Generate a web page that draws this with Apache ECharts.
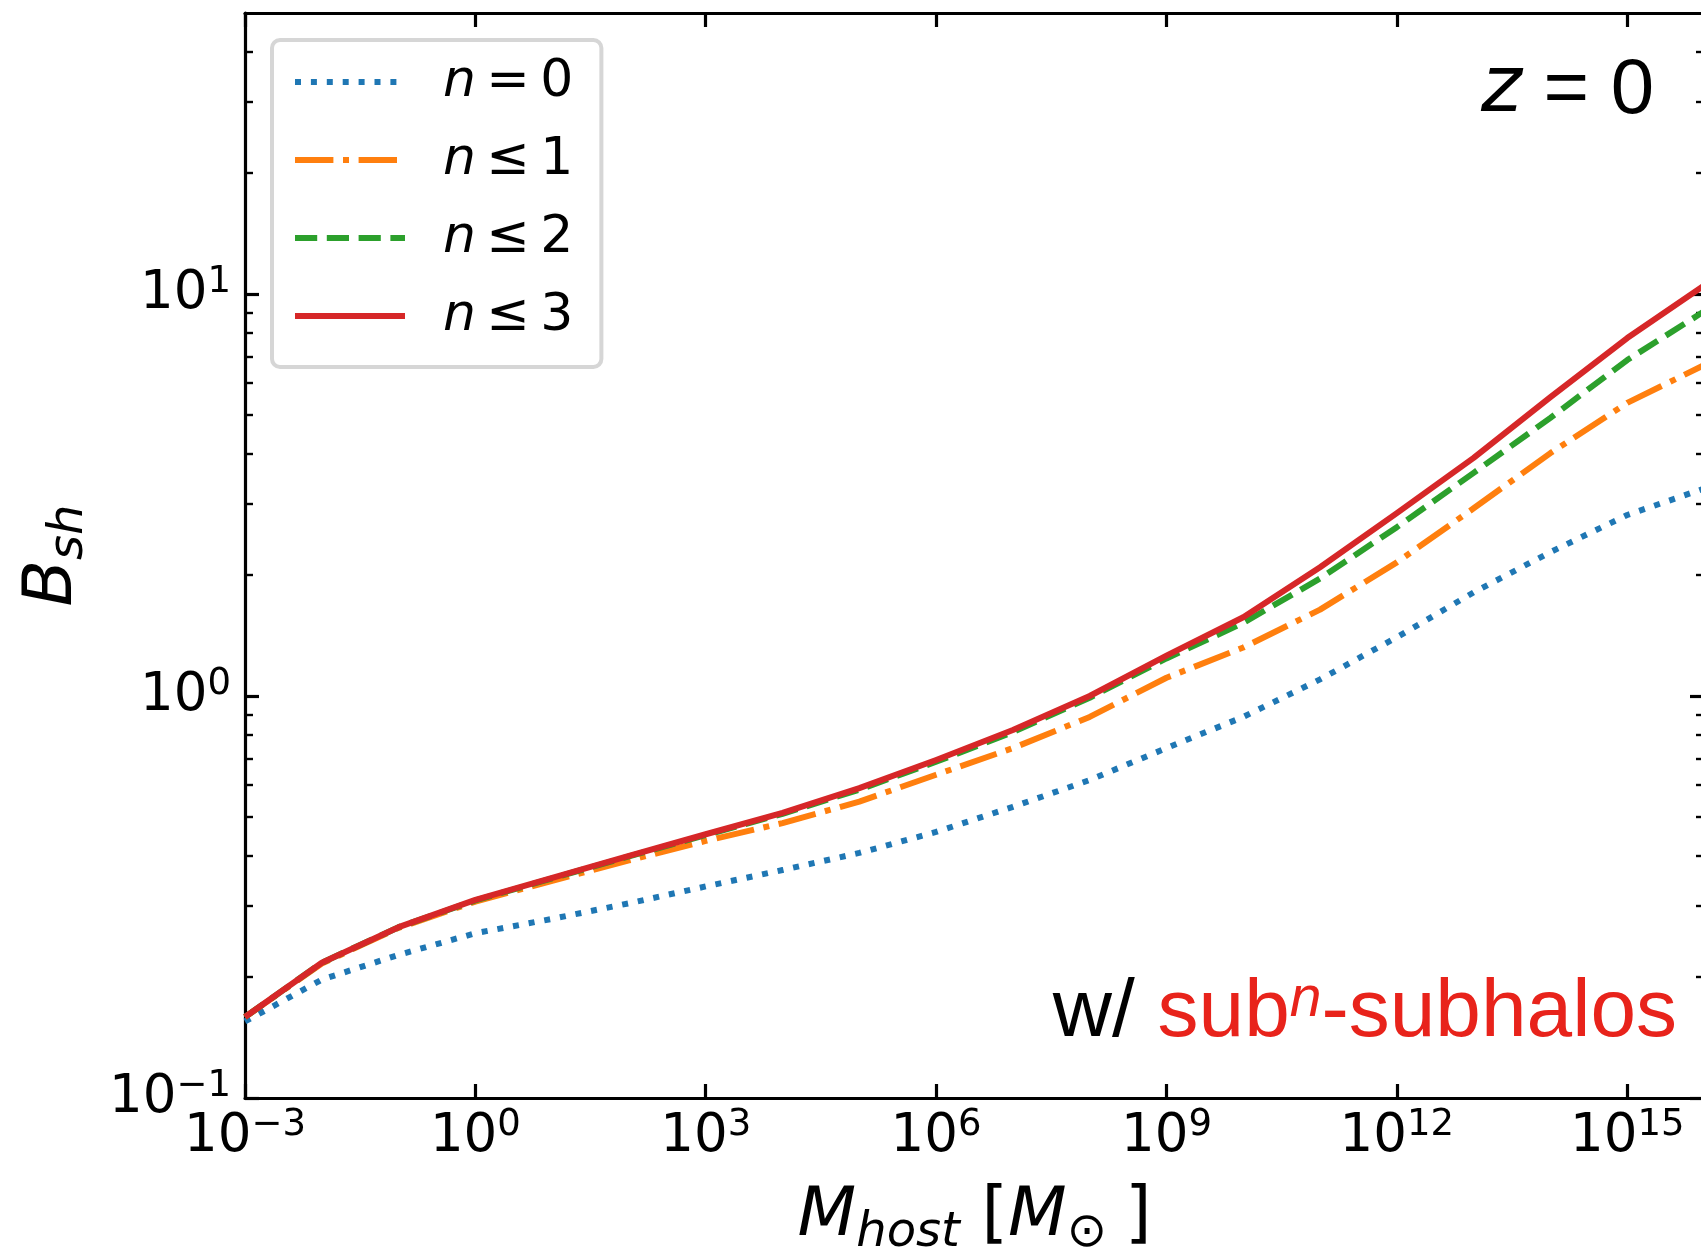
<!DOCTYPE html>
<html>
<head>
<meta charset="utf-8">
<script src="https://cdn.jsdelivr.net/npm/echarts@6/dist/echarts.min.js"></script>
<style>
  html, body { margin: 0; padding: 0; background: #ffffff; }
  #chart { width: 1701px; height: 1250px; }
</style>
</head>
<body>
<div id="chart"></div>
<script>
// Host halo mass [M_sun], one sample per decade
const hostMass = [1e-3, 1e-2, 1e-1, 1e0, 1e1, 1e2, 1e3, 1e4, 1e5, 1e6,
                  1e7, 1e8, 1e9, 1e10, 1e11, 1e12, 1e13, 1e14, 1e15, 1e16];

// Subhalo boost factor B_sh, summed up to sub^n-subhalo level n
const boostN0 = [0.155, 0.197, 0.227, 0.257, 0.279, 0.305, 0.336, 0.369, 0.407, 0.459,
                 0.530, 0.618, 0.742, 0.887, 1.10, 1.40, 1.81, 2.28, 2.82, 3.28];
const boostN1 = [0.159, 0.216, 0.265, 0.308, 0.347, 0.390, 0.436, 0.483, 0.546, 0.637,
                 0.742, 0.887, 1.11, 1.32, 1.64, 2.15, 2.93, 4.02, 5.36, 6.65];
const boostN2 = [0.159, 0.217, 0.266, 0.310, 0.352, 0.399, 0.451, 0.509, 0.585, 0.686,
                 0.813, 0.990, 1.24, 1.52, 1.96, 2.63, 3.59, 4.92, 6.85, 9.05];
const boostN3 = [0.159, 0.217, 0.266, 0.311, 0.353, 0.400, 0.453, 0.512, 0.590, 0.693,
                 0.823, 1.00, 1.26, 1.57, 2.09, 2.85, 3.91, 5.54, 7.77, 10.5];

const seriesNames = ['n = 0', 'n \u2264 1', 'n \u2264 2', 'n \u2264 3'];

// Tick positions
const xTickValues = [1e-3, 1e0, 1e3, 1e6, 1e9, 1e12, 1e15];
const yMajorTicks = [0.1, 1, 10];
const yMinorTicks = [0.2, 0.3, 0.4, 0.5, 0.6, 0.7, 0.8, 0.9,
                     2, 3, 4, 5, 6, 7, 8, 9, 20, 30, 40];

const FONT = 'DejaVu Sans';
const SANS = 'Liberation Sans';
const INK = '#000000';
const RED_TEXT = '#e8231b';

function powLabel(v) {
  const e = Math.round(Math.log10(v));
  const s = e < 0 ? '\u2212' + (-e) : String(e);
  return '{b|10}{s|' + s + '}';
}

// "10" with a raised exponent
const tickRich = {
  b: { fontFamily: FONT, fontSize: 53, lineHeight: 60, color: INK },
  s: { fontFamily: FONT, fontSize: 37, lineHeight: 29, verticalAlign: 'top', color: INK }
};

// italic symbol with a lowered subscript
const nameRich = {
  i: { fontFamily: FONT, fontStyle: 'italic', fontSize: 68, lineHeight: 75, verticalAlign: 'top', color: INK },
  r: { fontFamily: FONT, fontSize: 68, lineHeight: 75, verticalAlign: 'top', color: INK },
  g: { fontFamily: FONT, fontSize: 68, lineHeight: 75, verticalAlign: 'top', width: 18 },
  s: { fontFamily: FONT, fontStyle: 'italic', fontSize: 48, lineHeight: 75, verticalAlign: 'bottom', color: INK },
  u: { fontFamily: FONT, fontSize: 48, lineHeight: 75, verticalAlign: 'bottom', color: INK }
};

const spine = { show: true, onZero: false, lineStyle: { color: INK, width: 3.2 } };
const majorTick = (vals) => ({ show: true, inside: true, length: 14, customValues: vals,
                               lineStyle: { color: INK, width: 3.2 } });
const minorTick = (vals) => ({ show: true, inside: true, length: 8, customValues: vals,
                               lineStyle: { color: INK, width: 2.4 } });

const gridBox = { left: 245, top: 13, right: -3, bottom: 152, outerBoundsMode: 'none', containLabel: false };

const styles = [
  { color: '#1f77b4', type: [6, 9.9] },
  { color: '#ff7f0e', type: [38.4, 9.6, 6, 9.6] },
  { color: '#2ca02c', type: [22.2, 9.6] },
  { color: '#d62728', type: 'solid' }
];
const values = [boostN0, boostN1, boostN2, boostN3];

const series = values.map((arr, k) => ({
  name: seriesNames[k],
  type: 'line',
  xAxisIndex: 0,
  yAxisIndex: 0,
  data: hostMass.map((m, i) => [m, arr[i]]),
  symbol: 'none',
  showSymbol: false,
  smooth: false,
  lineStyle: { color: styles[k].color, width: 6, type: styles[k].type, cap: 'butt', join: 'round' },
  itemStyle: { color: styles[k].color },
  emphasis: { disabled: true },
  z: 2 + k
}));

const chart = echarts.init(document.getElementById('chart'), null, { renderer: 'canvas' });

chart.setOption({
  animation: false,
  backgroundColor: '#ffffff',
  grid: [Object.assign({}, gridBox), Object.assign({}, gridBox)],
  xAxis: [
    {
      type: 'log', logBase: 10, gridIndex: 0, position: 'bottom', min: 1e-3, max: 1e16,
      axisLine: spine, axisTick: majorTick(xTickValues),
      axisLabel: { show: true, margin: 9, customValues: xTickValues, formatter: powLabel,
                   fontFamily: FONT, fontSize: 53, color: INK, rich: tickRich,
                   showMinLabel: true, showMaxLabel: true, hideOverlap: false },
      splitLine: { show: false }, minorTick: { show: false },
      name: '{i|M}{s|host}{r| [}{i|M}{u|\u2299}{g| }{r|]}',
      nameLocation: 'middle', nameGap: 85, nameMoveOverlap: false,
      nameTextStyle: { fontFamily: FONT, fontSize: 68, color: INK, rich: nameRich }
    },
    {
      type: 'log', logBase: 10, gridIndex: 0, position: 'top', min: 1e-3, max: 1e16,
      axisLine: spine, axisTick: majorTick(xTickValues),
      axisLabel: { show: false }, splitLine: { show: false }
    },
    {
      type: 'log', logBase: 10, gridIndex: 1, position: 'bottom', min: 1e-3, max: 1e16,
      show: false
    }
  ],
  yAxis: [
    {
      type: 'log', logBase: 10, gridIndex: 0, position: 'left', min: 0.1, max: 50,
      axisLine: spine, axisTick: majorTick(yMajorTicks),
      axisLabel: { show: true, margin: 14, customValues: yMajorTicks, formatter: powLabel,
                   fontFamily: FONT, fontSize: 53, color: INK, rich: tickRich,
                   showMinLabel: true, showMaxLabel: true, hideOverlap: false },
      splitLine: { show: false }, minorTick: { show: false },
      name: '{i|B}{s|sh}',
      nameLocation: 'middle', nameRotate: 90, nameGap: 151, nameMoveOverlap: false,
      nameTextStyle: { fontFamily: FONT, fontSize: 68, color: INK, rich: nameRich }
    },
    {
      type: 'log', logBase: 10, gridIndex: 0, position: 'right', min: 0.1, max: 50,
      axisLine: spine, axisTick: majorTick(yMajorTicks),
      axisLabel: { show: false }, splitLine: { show: false }
    },
    {
      type: 'log', logBase: 10, gridIndex: 1, position: 'left', min: 0.1, max: 50,
      axisLine: { show: false }, axisTick: minorTick(yMinorTicks),
      axisLabel: { show: false }, splitLine: { show: false }
    },
    {
      type: 'log', logBase: 10, gridIndex: 1, position: 'right', min: 0.1, max: 50,
      axisLine: { show: false }, axisTick: minorTick(yMinorTicks),
      axisLabel: { show: false }, splitLine: { show: false }
    }
  ],
  legend: {
    orient: 'vertical', left: 272, top: 40,
    padding: [16, 28, 25, 20], itemGap: 26, itemWidth: 110, itemHeight: 52,
    backgroundColor: '#ffffff', borderColor: '#d6d6d6', borderWidth: 4, borderRadius: 8,
    selectedMode: false,
    data: seriesNames,
    itemStyle: { opacity: 0, color: 'rgba(0,0,0,0)', borderWidth: 0 },
    lineStyle: { width: 6, cap: 'butt' },
    formatter: (name) => '{sp| }{i|n}{t|' + name.slice(1).replace(/ /g, '\u2009') + '}',
    textStyle: {
      fontFamily: FONT, fontSize: 52, color: INK,
      rich: {
        sp: { width: 33, fontSize: 52, lineHeight: 52 },
        i: { fontFamily: FONT, fontStyle: 'italic', fontSize: 52, lineHeight: 52, color: INK },
        t: { fontFamily: FONT, fontSize: 52, lineHeight: 52, color: INK }
      }
    }
  },
  graphic: [
    {
      type: 'text', z: 10,
      style: {
        x: 1481, y: 52, align: 'left', verticalAlign: 'top',
        text: '{i|z}{r| = 0}',
        rich: {
          i: { fontFamily: FONT, fontStyle: 'italic', fontSize: 78, lineHeight: 78, fill: INK, color: INK },
          r: { fontFamily: SANS, fontSize: 78, lineHeight: 78, fill: INK, color: INK }
        }
      }
    },
    {
      type: 'text', z: 10,
      style: {
        x: 1677, y: 972, align: 'right', verticalAlign: 'top',
        text: '{k|w/ }{r|sub}{n|n}{r|-subhalos}',
        rich: {
          k: { fontFamily: SANS, fontSize: 82, lineHeight: 82, fill: INK, color: INK },
          r: { fontFamily: SANS, fontSize: 82, lineHeight: 82, fill: RED_TEXT, color: RED_TEXT },
          n: { fontFamily: SANS, fontStyle: 'italic', fontSize: 57, lineHeight: 57,
               verticalAlign: 'top', fill: RED_TEXT, color: RED_TEXT }
        }
      }
    }
  ],
  series: series
});
</script>
</body>
</html>
